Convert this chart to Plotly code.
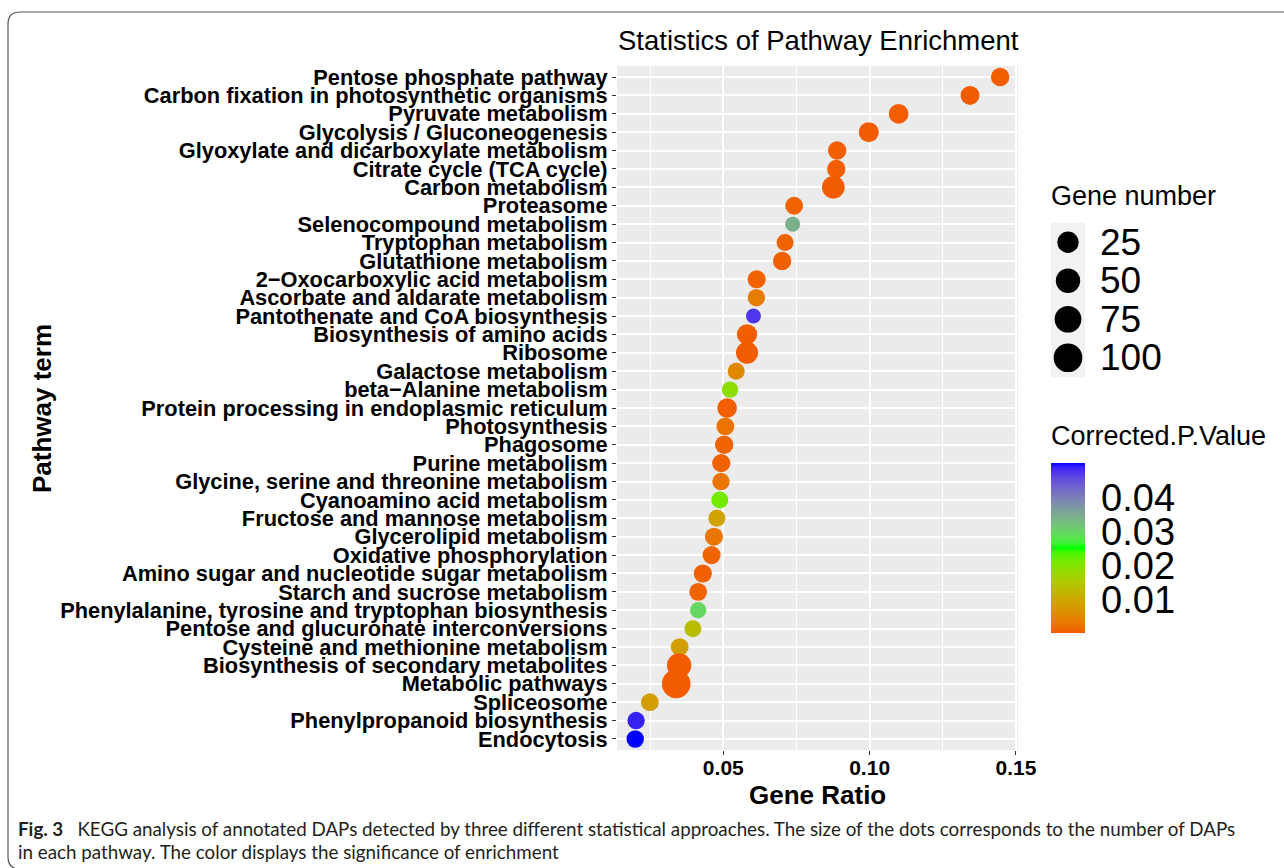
import numpy as np
import plotly.graph_objects as go

# ---------------- data ----------------
pathways = [
    "Pentose phosphate pathway",
    "Carbon fixation in photosynthetic organisms",
    "Pyruvate metabolism",
    "Glycolysis / Gluconeogenesis",
    "Glyoxylate and dicarboxylate metabolism",
    "Citrate cycle (TCA cycle)",
    "Carbon metabolism",
    "Proteasome",
    "Selenocompound metabolism",
    "Tryptophan metabolism",
    "Glutathione metabolism",
    "2\u2212Oxocarboxylic acid metabolism",
    "Ascorbate and aldarate metabolism",
    "Pantothenate and CoA biosynthesis",
    "Biosynthesis of amino acids",
    "Ribosome",
    "Galactose metabolism",
    "beta\u2212Alanine metabolism",
    "Protein processing in endoplasmic reticulum",
    "Photosynthesis",
    "Phagosome",
    "Purine metabolism",
    "Glycine, serine and threonine metabolism",
    "Cyanoamino acid metabolism",
    "Fructose and mannose metabolism",
    "Glycerolipid metabolism",
    "Oxidative phosphorylation",
    "Amino sugar and nucleotide sugar metabolism",
    "Starch and sucrose metabolism",
    "Phenylalanine, tyrosine and tryptophan biosynthesis",
    "Pentose and glucuronate interconversions",
    "Cysteine and methionine metabolism",
    "Biosynthesis of secondary metabolites",
    "Metabolic pathways",
    "Spliceosome",
    "Phenylpropanoid biosynthesis",
    "Endocytosis",
]

gene_ratio = [
    0.1446, 0.1343, 0.1099, 0.0997, 0.0889, 0.0886, 0.0876, 0.0742, 0.0737,
    0.0711, 0.0701, 0.0614, 0.0613, 0.0603, 0.0581, 0.0581, 0.0544, 0.0523,
    0.0513, 0.0507, 0.0503, 0.0493, 0.0492, 0.0488, 0.0478, 0.0468, 0.0460,
    0.0430, 0.0414, 0.0414, 0.0396, 0.0351, 0.0349, 0.0339, 0.0249, 0.0202,
    0.0199,
]

gene_number = [
    11, 13, 16, 18, 11, 11, 35, 9, 5, 7, 11, 10, 8, 5, 19, 30, 7, 6,
    16, 9, 11, 10, 8, 7, 7, 10, 10, 10, 9, 6, 7, 9, 49, 100, 9, 8, 8,
]

corrected_p = [
    0.0005, 0.0003, 0.0004, 0.0003, 0.0006, 0.0006, 0.0003, 0.0010, 0.0345,
    0.0012, 0.0008, 0.0011, 0.0040, 0.0475, 0.0005, 0.0003, 0.0055, 0.0190,
    0.0006, 0.0028, 0.0012, 0.0009, 0.0030, 0.0215, 0.0092, 0.0030, 0.0014,
    0.0008, 0.0010, 0.0300, 0.0135, 0.0088, 0.0003, 0.0003, 0.0085, 0.0490,
    0.0503,
]

x_ticks = [0.05, 0.10, 0.15]
x_minor = [0.025, 0.075, 0.125]
size_breaks = [25, 50, 75, 100]
p_ticks = [0.01, 0.02, 0.03, 0.04]

title_text = "Statistics of Pathway Enrichment"
caption_1 = ("<b>Fig. 3</b>\u2002 KEGG analysis of annotated DAPs detected by three different "
             "statistical approaches. The size of the dots corresponds to the number of DAPs")
caption_2 = "in each pathway. The color displays the significance of enrichment"

# ---------------- helpers ----------------
W, H = 1284, 868


def px_x(X):
    return X / W


def px_y(Y):
    return 1 - Y / H


def size_px(v):
    v = np.asarray(v, dtype=float)
    return 15 + 1.4 * np.sqrt(np.maximum(v - 5, 0))


def _lin(c):
    c = c / 255.0
    return np.where(c <= 0.04045, c / 12.92, ((c + 0.055) / 1.055) ** 2.4)


def _delin(c):
    c = np.where(c <= 0.0031308, 12.92 * c, 1.055 * np.power(np.clip(c, 0, None), 1 / 2.4) - 0.055)
    return np.clip(c, 0, 1) * 255


M = np.array([[0.4124, 0.3576, 0.1805], [0.2126, 0.7152, 0.0722], [0.0193, 0.1192, 0.9505]])
Minv = np.linalg.inv(M)
WP = np.array([0.95047, 1.0, 1.08883])


def rgb2lab(rgb):
    xyz = M @ _lin(np.array(rgb, dtype=float)) / WP
    f = np.where(xyz > 0.008856, np.cbrt(xyz), 7.787 * xyz + 16 / 116)
    return np.array([116 * f[1] - 16, 500 * (f[0] - f[1]), 200 * (f[1] - f[2])])


def lab2rgb(lab):
    fy = (lab[0] + 16) / 116
    fx = fy + lab[1] / 500
    fz = fy - lab[2] / 200
    f = np.array([fx, fy, fz])
    xyz = np.where(f ** 3 > 0.008856, f ** 3, (f - 16 / 116) / 7.787) * WP
    return _delin(Minv @ xyz)


low, mid, high = (243, 91, 0), (0, 255, 0), (0, 0, 255)
L0, L1, L2 = rgb2lab(low), rgb2lab(mid), rgb2lab(high)
colorscale = []
for f in np.linspace(0, 1, 41):
    if f <= 0.5:
        lab = L0 + (L1 - L0) * (f / 0.5)
    else:
        lab = L1 + (L2 - L1) * ((f - 0.5) / 0.5)
    r, g, b = lab2rgb(lab)
    colorscale.append([float(f), f"rgb({int(round(r))},{int(round(g))},{int(round(b))})"])

FONT = "Liberation Sans, Arial, sans-serif"
CAPFONT = "Lato, Open Sans, sans-serif"

# panel in pixels
PL, PR, PT, PB = 617, 1018, 66, 750

fig = go.Figure()

fig.add_trace(go.Scatter(
    x=gene_ratio, y=pathways, mode="markers", showlegend=False,
    marker=dict(
        size=size_px(gene_number), color=corrected_p, colorscale=colorscale,
        cmin=min(corrected_p), cmax=max(corrected_p), opacity=1, line=dict(width=0),
        colorbar=dict(
            lenmode="pixels", len=170, thickness=34, thicknessmode="pixels",
            x=px_x(1051), xanchor="left", y=px_y(548), yanchor="middle",
            xpad=0, ypad=0, outlinewidth=0, title=dict(text=""),
            tickvals=p_ticks, ticktext=[f"{t:.2f}" for t in p_ticks],
            ticks="outside", ticklen=9, tickcolor="rgba(0,0,0,0)",
            tickfont=dict(family=FONT, size=38, color="black"),
        ),
    ),
    xaxis="x", yaxis="y", hoverinfo="x+y",
))

# size legend keys
fig.add_trace(go.Scatter(
    x=[0] * len(size_breaks), y=list(range(1, len(size_breaks) + 1)), mode="markers",
    marker=dict(size=size_px(size_breaks), color="black", opacity=1, line=dict(width=0)),
    showlegend=False, hoverinfo="skip", xaxis="x2", yaxis="y2",
))

axis_common = dict(showline=False, zeroline=False, ticks="outside", ticklen=4,
                   tickwidth=1.1, tickcolor="#333333", gridcolor="white", gridwidth=1.5)

fig.update_layout(
    width=W, height=H, margin=dict(l=0, r=0, t=0, b=0, autoexpand=False),
    paper_bgcolor="white", plot_bgcolor="#EBEBEB", showlegend=False,
    font=dict(family=FONT, color="black"),
    xaxis=dict(
        domain=[px_x(PL), px_x(PR)], range=[0.01367, 0.1507], anchor="y",
        tickvals=x_ticks, ticktext=[f"{t:.2f}" for t in x_ticks],
        tickfont=dict(family=FONT, size=21, color="black", weight="bold"),
        minor=dict(tickvals=x_minor, showgrid=True, gridcolor="white", gridwidth=0.9, ticks=""),
        automargin=False, ticklabelstandoff=-5,
        **axis_common,
    ),
    yaxis=dict(
        domain=[px_y(PB), px_y(PT)], type="category", categoryorder="array",
        categoryarray=pathways, range=[len(pathways) - 0.4, -0.6], anchor="x",
        tickmode="array", tickvals=pathways, ticktext=pathways,
        tickfont=dict(family=FONT, size=21.8, color="black", weight="bold"),
        automargin=False,
        **axis_common,
    ),
    xaxis2=dict(domain=[px_x(1051), px_x(1085)], range=[-1, 1], anchor="y2", visible=False),
    yaxis2=dict(domain=[px_y(377), px_y(223)], range=[4.5, 0.5], anchor="x2", visible=False),
)

shapes = [
    # legend key background
    dict(type="rect", xref="x2 domain", yref="y2 domain", x0=0, x1=1, y0=0, y1=1,
         fillcolor="#F2F2F2", line=dict(width=0), layer="below"),
    # figure frame with rounded corners
    dict(type="path", xref="paper", yref="paper", layer="above",
         line=dict(color="#555555", width=1.2),
         path=(f"M {px_x(1300)},{px_y(12)} L {px_x(20)},{px_y(12)} "
               f"Q {px_x(8)},{px_y(12)} {px_x(8)},{px_y(24)} "
               f"L {px_x(8)},{px_y(857)} Q {px_x(8)},{px_y(869)} {px_x(20)},{px_y(869)} "
               f"L {px_x(1300)},{px_y(869)}")),
]
cmin, cmax = min(corrected_p), max(corrected_p)
for t in p_ticks:
    yy = 633 - (t - cmin) / (cmax - cmin) * 170
    for xa, xb in [(1051, 1057), (1079, 1085)]:
        shapes.append(dict(type="line", xref="paper", yref="paper", x0=px_x(xa), x1=px_x(xb),
                           y0=px_y(yy), y1=px_y(yy), line=dict(color="white", width=1),
                           layer="above"))
fig.update_layout(shapes=shapes)

ann = [
    dict(text=title_text, x=px_x(818), y=px_y(40), xanchor="center", yanchor="middle",
         font=dict(family=FONT, size=27.5, color="black")),
    dict(text="<b>Gene Ratio</b>", x=px_x(817), y=px_y(795), xanchor="center", yanchor="middle",
         font=dict(family=FONT, size=26, color="black")),
    dict(text="<b>Pathway term</b>", x=px_x(42), y=px_y(408), xanchor="center", yanchor="middle",
         textangle=-90, font=dict(family=FONT, size=26, color="black")),
    dict(text="Gene number", x=px_x(1049), y=px_y(196), xanchor="left", yanchor="middle",
         font=dict(family=FONT, size=27, color="black")),
    dict(text="Corrected.P.Value", x=px_x(1049), y=px_y(436), xanchor="left", yanchor="middle",
         font=dict(family=FONT, size=27, color="black")),
    dict(text=caption_1, x=px_x(16), y=px_y(828), xanchor="left", yanchor="middle",
         font=dict(family=CAPFONT, size=18.8, color="#231F20")),
    dict(text=caption_2, x=px_x(16), y=px_y(851), xanchor="left", yanchor="middle",
         font=dict(family=CAPFONT, size=18.8, color="#231F20")),
]
for i, b in enumerate(size_breaks):
    ann.append(dict(text=str(b), xref="paper", yref="y2", x=px_x(1098), y=i + 1,
                    xanchor="left", yanchor="middle",
                    font=dict(family=FONT, size=37, color="black")))
for a in ann:
    a.setdefault("xref", "paper")
    a.setdefault("yref", "paper")
    a["showarrow"] = False
fig.update_layout(annotations=ann)

fig.write_html("out.html")
